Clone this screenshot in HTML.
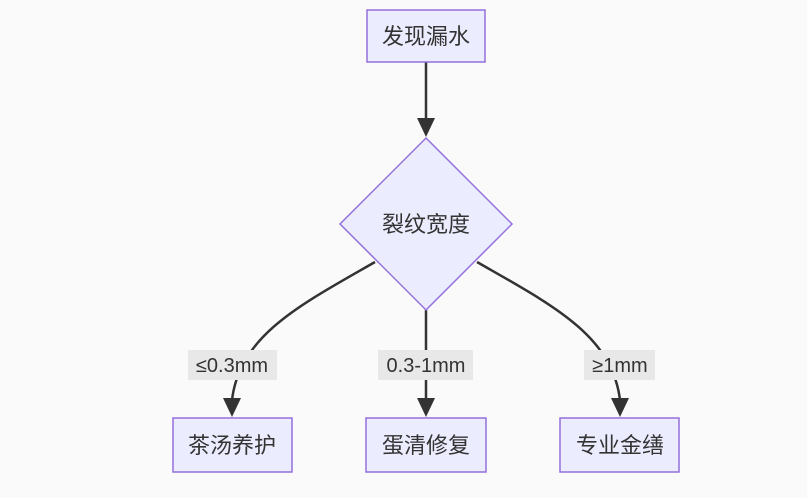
<!DOCTYPE html>
<html><head><meta charset="utf-8"><style>
html,body{margin:0;padding:0;background:#fafafa;}
svg{display:block;}
text{font-family:"Liberation Sans","Noto Sans CJK SC",sans-serif;fill:#333;}
</style></head><body>
<svg width="807" height="498" viewBox="0 0 807 498" xmlns="http://www.w3.org/2000/svg">
<g stroke="#333" stroke-width="2.5" fill="none">
<path d="M426,62 V120"/>
<path d="M375,262 C300,305 240,335 232,400"/>
<path d="M426,310 V400"/>
<path d="M477,262 C552,305 612,335 620,400"/>
</g>
<g fill="#333">
<path d="M417,118 L435,118 L426,137z"/>
<path d="M223,398 L241,398 L232,417z"/>
<path d="M417,398 L435,398 L426,417z"/>
<path d="M611,398 L629,398 L620,417z"/>
</g>
<g fill="#ececff" stroke="#9370db" stroke-width="1.5">
<rect x="367" y="10" width="118" height="52"/>
<path d="M426,138 L512,224 L426,310 L340,224z"/>
<rect x="173" y="418" width="119" height="54"/>
<rect x="366" y="418" width="120" height="54"/>
<rect x="560" y="418" width="119" height="54"/>
</g>
<g fill="#e8e8e8">
<rect x="188" y="350" width="89" height="30"/>
<rect x="378" y="350" width="95" height="30"/>
<rect x="584" y="350" width="71" height="30"/>
</g>
<g font-size="22" text-anchor="middle">
<text x="426" y="44">发现漏水</text>
<text x="426" y="232">裂纹宽度</text>
<text x="232" y="453">茶汤养护</text>
<text x="426" y="453">蛋清修复</text>
<text x="620" y="453">专业金缮</text>
</g>
<g font-size="20" text-anchor="middle">
<text x="232" y="372">≤0.3mm</text>
<text x="426" y="372">0.3-1mm</text>
<text x="620" y="372">≥1mm</text>
</g>
</svg>
</body></html>
